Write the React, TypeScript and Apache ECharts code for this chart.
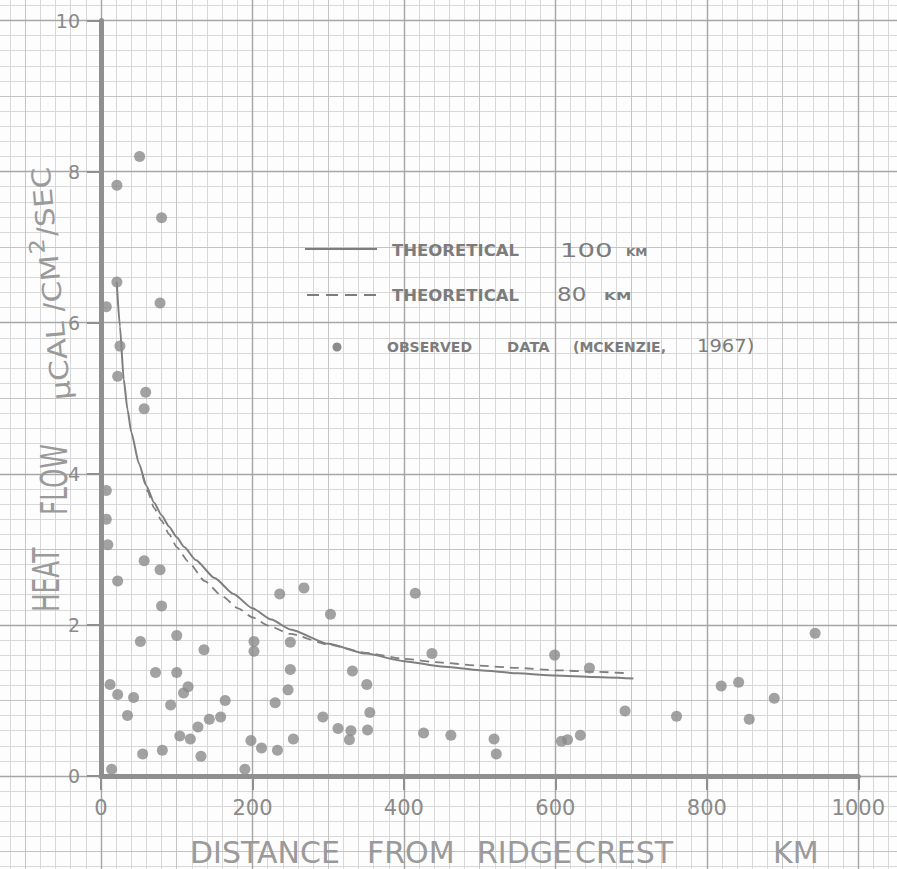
import React, { useEffect, useRef } from "react";
import * as echarts from "echarts";

// ---------- DATA ----------
const xTickValues = [0, 200, 400, 600, 800, 1000];
const yTickValues = [0, 2, 4, 6, 8, 10];

// Observed heat-flow data (McKenzie, 1967): [distance km, heat flow]
const observed: [number, number][] = [
  [51, 8.2], [21, 7.82], [80, 7.39], [21, 6.54], [7, 6.21], [78, 6.26],
  [25, 5.69], [22, 5.29], [59, 5.08], [57, 4.86], [7, 3.78], [7, 3.4],
  [9, 3.06], [57, 2.85], [78, 2.73], [22, 2.58], [80, 2.25], [236, 2.41],
  [52, 1.78], [100, 1.86], [136, 1.67], [202, 1.78], [202, 1.65], [250, 1.77],
  [250, 1.41], [72, 1.37], [100, 1.37], [12, 1.21], [22, 1.08], [43, 1.04],
  [109, 1.1], [115, 1.18], [92, 0.94], [164, 1.0], [247, 1.14], [230, 0.97],
  [35, 0.8], [143, 0.75], [158, 0.78], [128, 0.65], [104, 0.53], [118, 0.49],
  [55, 0.29], [81, 0.34], [132, 0.26], [198, 0.47], [212, 0.37], [233, 0.34],
  [254, 0.49], [14, 0.09], [190, 0.09], [268, 2.49], [303, 2.14], [415, 2.42],
  [437, 1.62], [332, 1.39], [351, 1.21], [355, 0.84], [293, 0.78], [313, 0.63],
  [330, 0.6], [328, 0.48], [352, 0.61], [426, 0.57], [462, 0.54], [519, 0.49],
  [522, 0.29], [599, 1.6], [645, 1.43], [608, 0.46], [616, 0.48], [633, 0.54],
  [692, 0.86], [760, 0.79], [943, 1.89], [819, 1.19], [842, 1.24], [889, 1.03],
  [856, 0.75],
];

// Theoretical curve, 100 km plate (solid)
const theory100: [number, number][] = [
  [20.7, 6.54], [25, 5.95], [30, 5.25], [35, 4.85], [40, 4.55], [50, 4.14],
  [60, 3.84], [70, 3.62], [80, 3.45], [90, 3.3], [100, 3.16], [110, 3.03],
  [125, 2.86], [150, 2.62], [175, 2.41], [200, 2.22], [225, 2.07], [250, 1.94],
  [300, 1.75], [350, 1.62], [400, 1.52], [450, 1.45], [500, 1.4], [550, 1.36],
  [600, 1.33], [650, 1.31], [703, 1.29],
];

// Theoretical curve, 80 km plate (dashed)
const theory80: [number, number][] = [
  [55, 3.98], [62, 3.76], [70, 3.55], [80, 3.38], [90, 3.2], [100, 3.03],
  [115, 2.84], [137, 2.58], [160, 2.38], [181, 2.22], [200, 2.1], [221, 1.99],
  [250, 1.88], [300, 1.74], [350, 1.63], [400, 1.55], [450, 1.5], [500, 1.46],
  [550, 1.43], [600, 1.4], [650, 1.38], [697, 1.36],
];

// ---------- STYLE ----------
const W = 897;
const H = 869;
const INK = "#8a8a8a";
const FONT = "'DejaVu Sans', 'Liberation Sans', sans-serif";

const txt = (
  text: string,
  x: number,
  y: number,
  size: number,
  opts: any = {}
) => ({
  type: "text",
  x,
  y,
  scaleX: opts.scaleX ?? 1,
  silent: true,
  z: 10,
  style: {
    text,
    x: 0,
    y: opts.dy ?? 0,
    fill: opts.color ?? INK,
    fontSize: size,
    fontFamily: FONT,
    fontWeight: opts.weight ?? "normal",
    align: opts.align ?? "left",
    textAlign: opts.align ?? "left",
    verticalAlign: "middle",
    textVerticalAlign: "middle",
  },
});

export default function App() {
  const ref = useRef<HTMLDivElement>(null);

  useEffect(() => {
    if (!ref.current) return;
    const chart = echarts.init(ref.current, null, { renderer: "svg" });

    const plotLeft = 101;
    const plotRight = 38.7;
    const plotTop = 20.5;
    const plotBottom = 93;
    const pxPerX = (W - plotLeft - plotRight) / 1000;
    const pxPerY = (H - plotTop - plotBottom) / 10;
    const xPx = (v: number) => plotLeft + v * pxPerX;
    const yPx = (v: number) => plotTop + (10 - v) * pxPerY;

    const grids: any[] = [
      { left: plotLeft, right: plotRight, top: plotTop, bottom: plotBottom, containLabel: false },
    ];
    const xAxes: any[] = [
      {
        type: "value",
        gridIndex: 0,
        min: 0,
        max: 1000,
        interval: 200,
        z: 5,
        axisLine: { show: true, lineStyle: { color: "#8f8f8f", width: 5 } },
        axisTick: { show: true, length: 14, lineStyle: { color: "#8f8f8f", width: 2 } },
        axisLabel: {
          show: true,
          margin: 21,
          color: INK,
          fontSize: 21,
          fontFamily: FONT,
          formatter: (v: number) => (xTickValues.includes(v) ? String(v) : ""),
        },
        splitLine: { show: false },
      },
    ];
    const yAxes: any[] = [
      {
        type: "value",
        gridIndex: 0,
        min: 0,
        max: 10,
        interval: 2,
        z: 5,
        axisLine: { show: true, lineStyle: { color: "#8f8f8f", width: 5 } },
        axisTick: { show: true, length: 14, lineStyle: { color: "#8f8f8f", width: 2 } },
        axisLabel: {
          show: true,
          margin: 21,
          color: INK,
          fontSize: 19,
          fontFamily: FONT,
          formatter: (v: number) => (yTickValues.includes(v) ? String(v) : ""),
        },
        splitLine: { show: false },
      },
    ];

    const lineAxis = (min: number, max: number, interval: number, gridIndex: number, color: string, width: number, z: number) => ({
      type: "value",
      gridIndex,
      min,
      max,
      interval,
      z,
      axisLine: { show: false },
      axisTick: { show: false },
      axisLabel: { show: false },
      splitLine: { show: true, lineStyle: { color, width } },
    });
    const hiddenAxis = (gridIndex: number) => ({
      type: "value",
      gridIndex,
      min: 0,
      max: 1,
      show: false,
    });

    // graph-paper vertical lines (span full height)
    const addVertical = (min: number, max: number, interval: number, color: string, width: number, z: number) => {
      const gi = grids.length;
      grids.push({ left: xPx(min), right: W - xPx(max), top: 0, bottom: 0, containLabel: false });
      xAxes.push(lineAxis(min, max, interval, gi, color, width, z));
      yAxes.push(hiddenAxis(gi));
    };
    // graph-paper horizontal lines (span full width)
    const addHorizontal = (min: number, max: number, interval: number, color: string, width: number, z: number) => {
      const gi = grids.length;
      grids.push({ left: 0, right: 0, top: yPx(max), bottom: H - yPx(min), containLabel: false });
      xAxes.push(hiddenAxis(gi));
      yAxes.push(lineAxis(min, max, interval, gi, color, width, z));
    };

    const fine = "#d8d8d8";
    const medium = "#c4c4c4";
    const major = "#a6a6a6";
    addVertical(-120, 1040, 20, fine, 1, 0);
    addHorizontal(-1.2, 10.2, 0.2, fine, 1, 0);
    addVertical(-100, 1000, 100, medium, 1, 1);
    addHorizontal(-1, 10, 1, medium, 1, 1);
    addVertical(0, 1000, 200, major, 1.4, 1.5);
    addHorizontal(0, 10, 2, major, 1.4, 1.5);

    const legendColor = "#7c7c7c";
    const titleColor = "#9a9a9a";

    const option: any = {
      animation: false,
      backgroundColor: "#fdfdfd",
      grid: grids,
      xAxis: xAxes,
      yAxis: yAxes,
      series: [
        {
          name: "Theoretical 100 km",
          type: "line",
          xAxisIndex: 0,
          yAxisIndex: 0,
          data: theory100,
          smooth: 0.2,
          smoothMonotone: "x",
          symbol: "none",
          z: 3,
          lineStyle: { color: "#7f7f7f", width: 2 },
        },
        {
          name: "Theoretical 80 km",
          type: "line",
          xAxisIndex: 0,
          yAxisIndex: 0,
          data: theory80,
          smooth: 0.2,
          smoothMonotone: "x",
          symbol: "none",
          z: 3,
          lineStyle: { color: "#7f7f7f", width: 1.8, type: [9, 6] },
        },
        {
          name: "Observed data",
          type: "scatter",
          xAxisIndex: 0,
          yAxisIndex: 0,
          data: observed,
          symbol: "circle",
          symbolSize: 11,
          z: 4,
          itemStyle: { color: "#8b8b8b" },
        },
      ],
      graphic: [
        // legend
        {
          type: "line",
          silent: true,
          shape: { x1: 305, y1: 249, x2: 377, y2: 249 },
          style: { stroke: legendColor, lineWidth: 2 },
          z: 10,
        },
        {
          type: "line",
          silent: true,
          shape: { x1: 307, y1: 295, x2: 378, y2: 295 },
          style: { stroke: legendColor, lineWidth: 1.8, lineDash: [12, 7] },
          z: 10,
        },
        {
          type: "circle",
          silent: true,
          shape: { cx: 337, cy: 347, r: 4.5 },
          style: { fill: "#8b8b8b" },
          z: 10,
        },
        txt("THEORETICAL", 392, 251, 15, { weight: "bold", scaleX: 1.1, color: legendColor }),
        txt("100", 560, 250, 20, { scaleX: 1.38, color: legendColor }),
        txt("KM", 626, 252, 11, { weight: "bold", scaleX: 1.1, color: legendColor }),
        txt("THEORETICAL", 392, 296, 15, { weight: "bold", scaleX: 1.1, color: legendColor }),
        txt("80", 557, 294, 20, { scaleX: 1.15, color: legendColor }),
        txt("KM", 604, 296, 11, { weight: "bold", scaleX: 1.4, color: legendColor }),
        txt("OBSERVED", 387, 347, 14, { weight: "bold", scaleX: 1.0, color: legendColor }),
        txt("DATA", 507, 347, 14, { weight: "bold", scaleX: 1.05, color: legendColor }),
        txt("(MCKENZIE,", 573, 347, 14, { weight: "bold", scaleX: 1.0, color: legendColor }),
        txt("1967)", 697, 346, 17, { scaleX: 1.15, color: legendColor }),
        // x-axis title
        txt("DISTANCE", 190, 852, 30, { color: titleColor }),
        txt("FROM", 367, 852, 30, { color: titleColor }),
        txt("RIDGE", 477, 852, 30, { color: titleColor }),
        txt("CREST", 575, 852, 30, { color: titleColor }),
        txt("KM", 773, 852, 30, { color: titleColor }),
        // y-axis title
        {
          type: "group",
          x: 46,
          y: 776,
          rotation: Math.PI / 2,
          children: [
            txt("HEAT", 164, 0, 38, { scaleX: 0.65, color: titleColor }),
            txt("FLOW", 261, 8, 38, { scaleX: 0.65, color: titleColor }),
          ],
        },
        {
          type: "group",
          x: 62,
          y: 400,
          rotation: Math.PI / 2 + 0.09,
          scaleX: 1.17,
          children: [
            txt("μCAL /CM", 0, 0, 26, { color: titleColor }),
            txt("2", 126, -11, 21, { color: titleColor }),
            txt("/SEC", 140, 0, 26, { color: titleColor }),
          ],
        },
      ],
    };

    chart.setOption(option);
    return () => chart.dispose();
  }, []);

  return (
    <div
      ref={ref}
      style={{ position: "fixed", left: 0, top: 0, width: W, height: H }}
    />
  );
}
